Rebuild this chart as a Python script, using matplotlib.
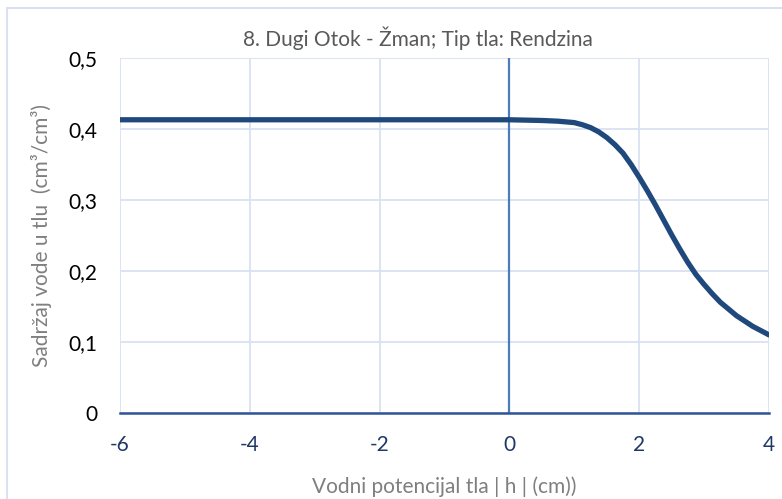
import numpy as np
import matplotlib.pyplot as plt
from matplotlib.patches import Rectangle
from matplotlib.ticker import FuncFormatter

# log10 of pressure head vs volumetric water content
log_h = [-6, -4, -2, 0, 0.5, 0.75, 1.0, 1.125, 1.25, 1.375, 1.5, 1.625, 1.75, 1.875, 2.0,
         2.125, 2.25, 2.375, 2.5, 2.625, 2.75, 2.875, 3.0, 3.125, 3.25, 3.5, 3.75, 4.0]
theta = [0.413, 0.413, 0.413, 0.413, 0.412, 0.411, 0.409, 0.406, 0.402, 0.396, 0.388, 0.378,
         0.366, 0.350, 0.332, 0.313, 0.293, 0.272, 0.251, 0.231, 0.212, 0.195, 0.181,
         0.168, 0.156, 0.137, 0.122, 0.110]

x_ticks = [-6, -4, -2, 0, 2, 4]
y_ticks = [0, 0.1, 0.2, 0.3, 0.4, 0.5]

plt.rcParams['font.family'] = ['Lato', 'DejaVu Sans']
plt.rcParams['axes.unicode_minus'] = False

fig = plt.figure(figsize=(7.82, 4.99), dpi=100)
fig.patches.append(Rectangle((7 / 782, -0.1), 1.1, 1 - 8 / 499 + 0.1, transform=fig.transFigure,
                             fill=False, edgecolor='#D9E1F2', linewidth=1.5))

ax = fig.add_axes([120 / 782, 1 - 413 / 499, (769 - 120) / 782, (413 - 58) / 499])

ax.plot(log_h, theta, color='#1F497D', linewidth=3.8, solid_capstyle='round',
        solid_joinstyle='round', zorder=3)

ax.set_xlim(-6, 4)
ax.set_ylim(0, 0.5)
ax.set_xticks(x_ticks)
ax.set_yticks(y_ticks)
ax.yaxis.set_major_formatter(FuncFormatter(lambda v, p: '0' if v == 0 else f'{v:.1f}'.replace('.', ',')))
ax.grid(True, color='#D9E1F2', linewidth=1.3)
ax.set_axisbelow(True)

for s in ['top', 'right', 'left']:
    ax.spines[s].set_visible(False)
ax.spines['bottom'].set_color('#2F5597')
ax.spines['bottom'].set_linewidth(1.8)
ax.axvline(0, color='#4A7EBB', linewidth=1.6, zorder=2)

ax.tick_params(axis='both', length=0, labelsize=15)
ax.tick_params(axis='x', pad=16, labelcolor='#1F3864')
ax.tick_params(axis='y', pad=16, labelcolor='black')

fig.text(418 / 782, 1 - 38 / 499, '8. Dugi Otok - Žman; Tip tla: Rendzina', fontsize=15,
         color='#595959', ha='center', va='center')
ax.set_xlabel('Vodni potencijal tla | h | (cm))', fontsize=15, color='#7F7F7F', labelpad=15)
ax.set_ylabel('Sadržaj vode u tlu  (cm³/cm³)', fontsize=15, color='#7F7F7F', labelpad=12)

fig.savefig('out.png', dpi=100)
